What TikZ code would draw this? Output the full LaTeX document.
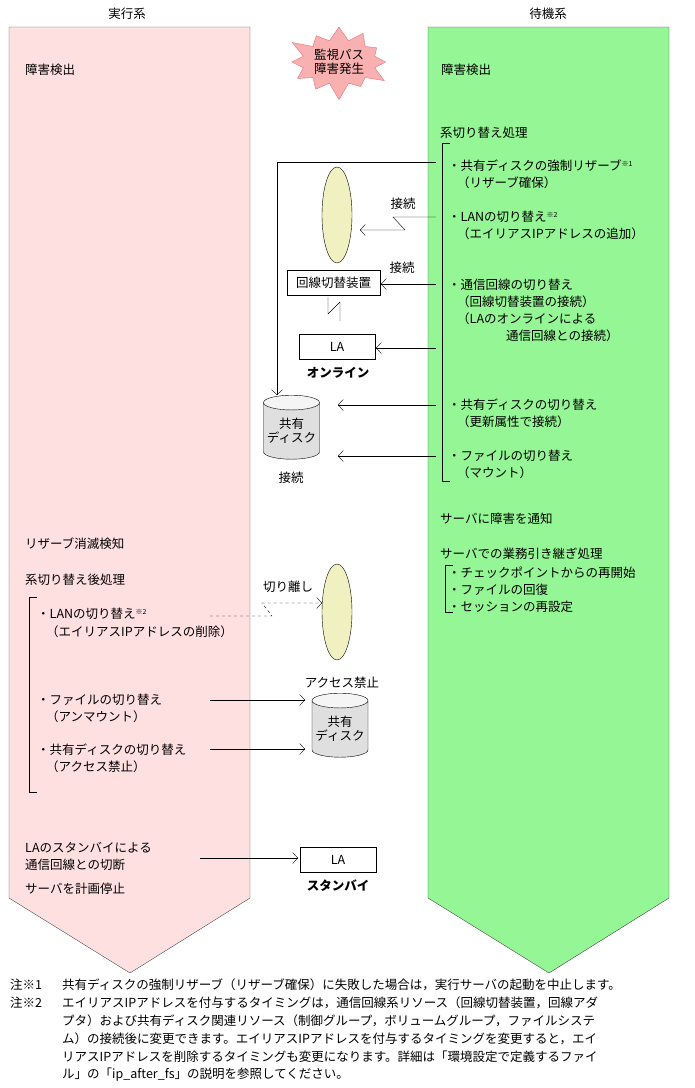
\documentclass[tikz,border=0pt]{standalone}
\usepackage{fontspec}
\setmainfont{Noto Sans CJK JP}
\usetikzlibrary{arrows.meta,shapes.symbols,shapes.geometric}
\begin{document}
\begin{tikzpicture}[x=1pt,y=-1pt,
  every node/.style={font=\fontsize{12.5}{14}\selectfont, inner sep=0pt},
  t/.style={anchor=west},
  ar/.style={draw, -{Straight Barb[length=5pt,width=11pt]}},
  bx/.style={draw, fill=white, minimum height=25pt},
  disk/.style={cylinder, shape border rotate=90, draw, aspect=0.3, minimum width=56pt, minimum height=64pt, cylinder uses custom fill, cylinder body fill=gray!25, cylinder end fill=gray!8, align=center},
  ell/.style={ellipse, draw, fill={rgb,255:red,240;green,240;blue,192}, minimum width=30pt, minimum height=96pt}]
\useasboundingbox (0,0) rectangle (695,1088);
\definecolor{pk}{RGB}{255,224,224}
\definecolor{gr}{RGB}{148,246,148}
% columns
\draw[fill=pk, draw=black!70] (9,27) -- (250,27) -- (250,898) -- (130,973) -- (9,898) -- cycle;
\draw[fill=gr, draw=black!70] (428,27) -- (669,27) -- (669,898) -- (549,973) -- (428,898) -- cycle;
\node (h1) at (127,14) {実行系};
\node (h2) at (548,14) {待機系};
\node[starburst, starburst points=12, starburst point height=18pt, fill={rgb,255:red,248;green,176;blue,176}, draw={rgb,255:red,220;green,120;blue,120}, minimum width=110pt, minimum height=80pt, align=center] (sb) at (339,62) {監視パス\\障害発生};
% left texts
\node[t] (l1) at (25,70) {障害検出};
\node[t] (l2) at (25,544) {リザーブ消滅検知};
\node[t] (l3) at (25,580) {系切り替え後処理};
\node[t] (l4) at (37,614) {・LANの切り替え\textsuperscript{\fontsize{7}{8}\selectfont ※2}};
\node[t] (l5) at (46,632) {（エイリアスIPアドレスの削除）};
\node[t] (l6) at (37,700) {・ファイルの切り替え};
\node[t] (l7) at (46,717) {（アンマウント）};
\node[t] (l8) at (37,750) {・共有ディスクの切り替え};
\node[t] (l9) at (46,767) {（アクセス禁止）};
\node[t] (l10) at (25,848) {LAのスタンバイによる};
\node[t] (l11) at (25,865) {通信回線との切断};
\node[t] (l12) at (25,889) {サーバを計画停止};
\draw (37,597) -- (29,597) -- (29,792) -- (37,792);
% right texts
\node[t] (r1) at (441,70) {障害検出};
\node[t] (r2) at (440,133) {系切り替え処理};
\node[t] (r3) at (448,166) {・共有ディスクの強制リザーブ\textsuperscript{\fontsize{7}{8}\selectfont ※1}};
\node[t] (r4) at (457,183) {（リザーブ確保）};
\node[t] (r5) at (448,217) {・LANの切り替え\textsuperscript{\fontsize{7}{8}\selectfont ※2}};
\node[t] (r6) at (457,234) {（エイリアスIPアドレスの追加）};
\node[t] (r7) at (448,285) {・通信回線の切り替え};
\node[t] (r8) at (457,302) {（回線切替装置の接続）};
\node[t] (r9) at (457,319) {（LAのオンラインによる};
\node[t] (r10) at (506,336) {通信回線との接続）};
\node[t] (r11) at (448,405) {・共有ディスクの切り替え};
\node[t] (r12) at (457,422) {（更新属性で接続）};
\node[t] (r13) at (448,456) {・ファイルの切り替え};
\node[t] (r14) at (457,473) {（マウント）};
\node[t] (r15) at (440,519) {サーバに障害を通知};
\node[t] (r16) at (440,554) {サーバでの業務引き継ぎ処理};
\node[t] (r17) at (448,573) {・チェックポイントからの再開始};
\node[t] (r18) at (448,590) {・ファイルの回復};
\node[t] (r19) at (448,607) {・セッションの再設定};
\draw (450,143) -- (442,143) -- (442,481) -- (450,481);
\draw (453,565) -- (445,565) -- (445,612) -- (453,612);
% middle objects
\node[ell] (e1) at (337,215) {};
\node[bx, minimum width=93pt] (sw) at (333.5,282.5) {回線切替装置};
\node[bx, minimum width=76pt] (la1) at (337,346.5) {LA};
\node[font=\bfseries\fontsize{12.5}{14}\selectfont] (on) at (338,373) {オンライン};
\node[disk] (d1) at (291.5,431) {共有\\ディスク};
\node (c1) at (291,478) {接続};
\node (c2) at (403,204) {接続};
\node (c3) at (402,268) {接続};
\coordinate (p1) at (436,162);
\coordinate (p2) at (436,217);
\coordinate (p3) at (436,284);
\coordinate (p4) at (436,348);
\coordinate (p5) at (436,405);
\coordinate (p6) at (436,456);
\draw[ar] (p1) -- (277,162) -- (277,395);
\draw[ar] (p2) -- (393,217) -- (405,230) -- (360,230);
\draw[ar] (p3) -- (381,284);
\draw[ar] (p4) -- (376,348);
\draw[ar] (p5) -- (338,405);
\draw[ar] (p6) -- (338,456);
\draw (328,297) -- (328,314) -- (340,302) -- (340,321);
% lower middle
\node[ell] (e2) at (337,612) {};
\node (c4) at (288,587) {切り離し};
\node (c5) at (342,683) {アクセス禁止};
\node[disk] (d2) at (340,729) {共有\\ディスク};
\node[bx, minimum width=76pt] (la2) at (338,859.5) {LA};
\node[font=\bfseries\fontsize{12.5}{14}\selectfont] (sb2) at (338,886) {スタンバイ};
\coordinate (q1) at (210,616);
\coordinate (q2) at (210,700);
\coordinate (q3) at (210,749);
\coordinate (q4) at (200,858);
\draw[ar, dashed] (q1) -- (272,616) -- (262,603) -- (322,603);
\draw[ar] (q2) -- (305,700);
\draw[ar] (q3) -- (305,749);
\draw[ar] (q4) -- (298,858);
% notes
\node[t] (n1) at (10,985) {注※1};
\node[t] (n2) at (10,1003) {注※2};
\node[t] (n3) at (62,985) {共有ディスクの強制リザーブ（リザーブ確保）に失敗した場合は，実行サーバの起動を中止します。};
\node[t] (n4) at (62,1003) {エイリアスIPアドレスを付与するタイミングは，通信回線系リソース（回線切替装置，回線アダ};
\node[t] (n5) at (62,1021) {プタ）および共有ディスク関連リソース（制御グループ，ボリュームグループ，ファイルシステ};
\node[t] (n6) at (62,1039) {ム）の接続後に変更できます。エイリアスIPアドレスを付与するタイミングを変更すると，エイ};
\node[t] (n7) at (62,1057) {リアスIPアドレスを削除するタイミングも変更になります。詳細は「環境設定で定義するファイ};
\node[t] (n8) at (62,1075) {ル」の「ip\_after\_fs」の説明を参照してください。};
\end{tikzpicture}
\end{document}
